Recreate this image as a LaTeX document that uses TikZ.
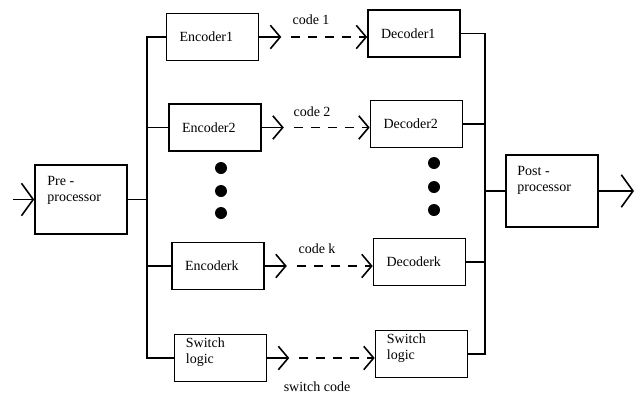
\documentclass[tikz,border=0pt]{standalone}
\usepackage{fontspec}
\setmainfont{Liberation Serif}
\usetikzlibrary{arrows.meta,calc}
\begin{document}
\begin{tikzpicture}[x=1pt,y=-1pt,
  box/.style={draw,line width=1.6pt,minimum width=92pt,minimum height=47pt,
    inner xsep=13pt,inner ysep=0pt,text width=66pt,align=left,
    font=\fontsize{14}{16}\selectfont},
  lbl/.style={font=\fontsize{14}{16}\selectfont,align=left,inner sep=0pt},
  wire/.style={line width=1.5pt},
  arr/.style={wire,-{Straight Barb[scale length=2.2,scale width=2.6,line width=1.6pt]}},
  bigarr/.style={wire,-{Straight Barb[scale length=2.6,scale width=3.6,line width=1.6pt]}},
  darr/.style={arr,dash pattern=on 9pt off 8pt},
  dot/.style={circle,fill=black,minimum size=12pt,inner sep=0pt}]
\useasboundingbox (0,0) rectangle (635,394);

% boxes
\node[box,minimum height=69pt] (pre) at (81,199.5) {};
\node[box] (enc1) at (212.5,37) {Encoder1};
\node[box] (enc2) at (215,127.5) {Encoder2};
\node[box] (enck) at (218,266) {Encoderk};
\node[box] (swl) at (220.5,358) {};
\node[box] (dec1) at (414,33.5) {Decoder1};
\node[box] (dec2) at (416.5,124) {Decoder2};
\node[box] (deck) at (419.5,262) {Decoderk};
\node[box] (swr) at (421.5,354) {};
\node[box,minimum height=72pt] (post) at (552,191) {};

% multi-line texts
\node[lbl,anchor=north west] (pretxt) at ($(pre.north west)+(13,12)$) {Pre -\\processor};
\node[lbl,anchor=north west] (swltxt) at ($(swl.north west)+(12,4)$) {Switch\\logic};
\node[lbl,anchor=north west] (swrtxt) at ($(swr.north west)+(12,4)$) {Switch\\logic};
\node[lbl,anchor=north west] (posttxt) at ($(post.north west)+(12,12)$) {Post -\\processor};

% buses
\coordinate (bl) at (147,0);
\coordinate (br) at (485,0);
\draw[wire] (enc1.west) -- (enc1.west -| bl) -- (swl.west -| bl) -- (swl.west);
\draw[wire] (enc2.west) -- (enc2.west -| bl);
\draw[wire] (enck.west) -- (enck.west -| bl);
\draw[wire] (pre.east) -- (pre.east -| bl);
\draw[wire] (dec1.east) -- (dec1.east -| br) -- (swr.east -| br) -- (swr.east);
\draw[wire] (dec2.east) -- (dec2.east -| br);
\draw[wire] (deck.east) -- (deck.east -| br);
\draw[wire] (post.west -| br) -- (post.west);

% input / output
\coordinate (in) at (13,199.5);
\coordinate (out) at (634,191);
\draw[bigarr] (in) -- (pre.west);
\draw[bigarr] (post.east) -- (out);

% encoder -> decoder links
\draw[arr] (enc1.east) -- ++(22,0) coordinate (e1);
\draw[arr] (enc2.east) -- ++(22,0) coordinate (e2);
\draw[arr] (enck.east) -- ++(22,0) coordinate (ek);
\draw[arr] (swl.east) -- ++(22,0) coordinate (es);
\coordinate (s1) at ($(e1)+(10,0)$);
\coordinate (s2) at ($(e2)+(10,0)$);
\coordinate (sk) at ($(ek)+(10,0)$);
\coordinate (ss) at ($(es)+(10,0)$);
\draw[darr] (s1) -- (dec1.west |- s1);
\draw[darr] (s2) -- (dec2.west |- s2);
\draw[darr] (sk) -- (deck.west |- sk);
\draw[darr] (ss) -- (swr.west |- ss);

% labels
\node[lbl] (c1) at (311,20) {code 1};
\node[lbl] (c2) at (312,112) {code 2};
\node[lbl] (ck) at (317,249) {code k};
\node[lbl] (cs) at (317,387) {switch code};

% ellipsis dots
\node[dot] (l1) at (221,168) {};
\node[dot] (l2) at (221,191) {};
\node[dot] (l3) at (221,213) {};
\node[dot] (r1) at (434,163) {};
\node[dot] (r2) at (434,187) {};
\node[dot] (r3) at (434,210) {};
\end{tikzpicture}
\end{document}
